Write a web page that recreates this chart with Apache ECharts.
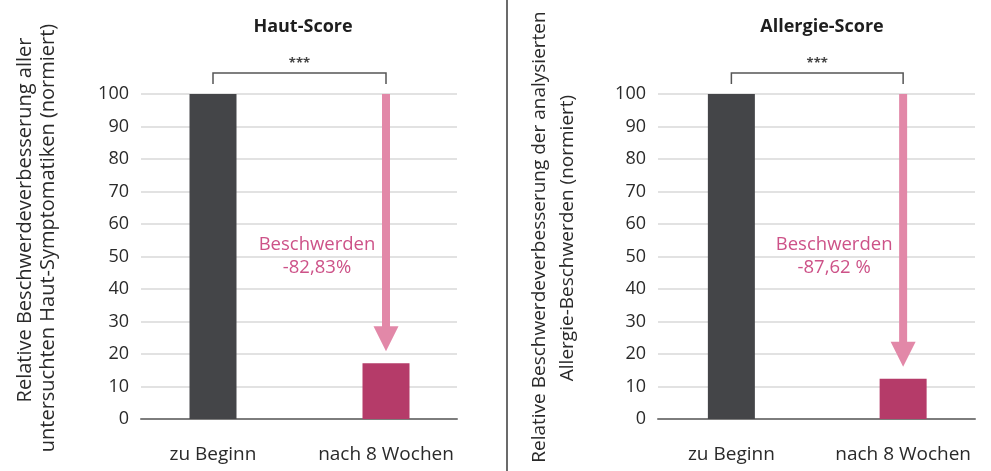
<!DOCTYPE html>
<html>
<head>
<meta charset="utf-8">
<script src="https://cdn.jsdelivr.net/npm/echarts@6/dist/echarts.min.js"></script>
<style>html,body{margin:0;padding:0;background:#fff;}#c{width:991px;height:471px;}</style>
</head>
<body>
<div id="c"></div>
<script>
// ---- data ----
const categories = ['zu Beginn', 'nach 8 Wochen'];
const hautValues = [100, 17.17];
const allergieValues = [100, 12.38];
const panelTitles = ['Haut-Score', 'Allergie-Score'];
const yAxisTitles = [
  ['Relative Beschwerdeverbesserung aller', 'untersuchten Haut-Symptomatiken (normiert)'],
  ['Relative Beschwerdeverbesserung der analysierten', 'Allergie-Beschwerden (normiert)']
];
const changeLabels = ['Beschwerden\n-82,83%', 'Beschwerden\n-87,62 %'];
const significance = '***';
const yMin = 0, yMax = 100, yStep = 10;

// ---- styles ----
const FONT = "'Open Sans', 'Noto Sans', sans-serif";
const TEXT = '#2a2a2a';
const DARK = '#444548';
const CRIMSON = '#b53b69';
const PINK = '#e288a8';
const PINK_TEXT = '#cd5288';

const chart = echarts.init(document.getElementById('c'));

const narrowGrids = [
  { left: 141, right: 534, top: 94, bottom: 52 },
  { left: 658, right: 16, top: 94, bottom: 52 }
];
const wideGrids = [
  { left: 126.5, right: 518.5, top: 94, bottom: 52 },
  { left: 645.5, right: 2, top: 94, bottom: 52 }
];
const titleCenters = [303, 822];
const yTitleX = [[25, 48], [540, 568]];
const yTitleY = [[220, 238], [237, 238]];
const yTitleSize = [20, 19];

const grid = [], xAxis = [], yAxis = [], series = [], title = [], graphic = [];

[hautValues, allergieValues].forEach((vals, i) => {
  grid.push(narrowGrids[i]);
  grid.push(wideGrids[i]);
  const ng = i * 2, wg = i * 2 + 1;
  xAxis.push({
    type: 'category', gridIndex: ng, data: categories,
    axisLine: { show: true, lineStyle: { color: '#7d7d7d', width: 2 } },
    axisTick: { show: false }, axisLabel: { show: false }, splitLine: { show: false }
  });
  yAxis.push({
    type: 'value', gridIndex: ng, min: yMin, max: yMax, interval: yStep,
    axisLine: { show: false }, axisTick: { show: false },
    axisLabel: { color: TEXT, fontSize: 18, fontFamily: FONT, margin: 12 },
    splitLine: { lineStyle: { color: '#e2e2e2', width: 2 } }
  });
  xAxis.push({
    type: 'category', gridIndex: wg, data: categories,
    axisLine: { show: false }, axisTick: { show: false },
    axisLabel: { color: TEXT, fontSize: 19, fontFamily: FONT, margin: 26, interval: 0 },
    splitLine: { show: false }
  });
  yAxis.push({ type: 'value', gridIndex: wg, min: yMin, max: yMax, show: false, splitLine: { show: false } });

  series.push({
    type: 'bar', xAxisIndex: wg, yAxisIndex: wg, barWidth: 47,
    data: vals.map((v, k) => ({ value: v, itemStyle: { color: k === 0 ? DARK : CRIMSON } })),
    silent: true, z: 3
  });

  series.push({
    type: 'custom', xAxisIndex: wg, yAxisIndex: wg, data: [[0, 0]], silent: true, z: 5,
    renderItem: function (params, api) {
      const pStart0 = api.coord([0, vals[0]]);
      const pStart1 = api.coord([1, vals[0]]);
      const pEnd = api.coord([1, vals[1]]);
      const x = pStart1[0];
      const tipY = pEnd[1] - 12;
      const headLen = 25, headW = 25, shaftW = 8;
      const midY = api.coord([1, 50])[1];
      return {
        type: 'group',
        children: [
          { type: 'rect', shape: { x: x - shaftW / 2, y: pStart1[1], width: shaftW, height: tipY - headLen - pStart1[1] + 1 }, style: { fill: PINK } },
          { type: 'polygon', shape: { points: [[x - headW / 2, tipY - headLen], [x + headW / 2, tipY - headLen], [x, tipY]] }, style: { fill: PINK } },
          { type: 'text', style: { text: changeLabels[i], x: x - 69, y: midY, fill: PINK_TEXT, font: '18.5px ' + FONT, align: 'center', verticalAlign: 'middle', lineHeight: 23 } },
          { type: 'polyline', shape: { points: [[pStart0[0], pStart0[1] - 10], [pStart0[0], pStart0[1] - 21], [x, pStart1[1] - 21], [x, pStart1[1] - 10]] }, style: { stroke: '#555555', lineWidth: 1.5, fill: null } },
          { type: 'text', style: { text: significance, x: (pStart0[0] + x) / 2, y: pStart0[1] - 31, fill: '#444444', font: 'bold 13px ' + FONT, align: 'center', verticalAlign: 'middle' } }
        ]
      };
    }
  });

  title.push({
    text: panelTitles[i], left: titleCenters[i], top: 18, textAlign: 'center', padding: 0,
    textStyle: { fontSize: 18, fontWeight: 'bold', color: '#1e1e1e', fontFamily: FONT }
  });

  yAxisTitles[i].forEach((t, j) => {
    graphic.push({
      type: 'text', x: yTitleX[i][j], y: yTitleY[i][j], rotation: Math.PI / 2,
      style: { text: t, fill: TEXT, font: yTitleSize[i] + 'px ' + FONT, textAlign: 'center', textVerticalAlign: 'middle' }
    });
  });
});

graphic.push({ type: 'line', shape: { x1: 507, y1: 0, x2: 507, y2: 471 }, style: { stroke: '#6b6b6b', lineWidth: 2 } });

chart.setOption({ animation: false, backgroundColor: '#ffffff', title, grid, xAxis, yAxis, series, graphic });
</script>
</body>
</html>
